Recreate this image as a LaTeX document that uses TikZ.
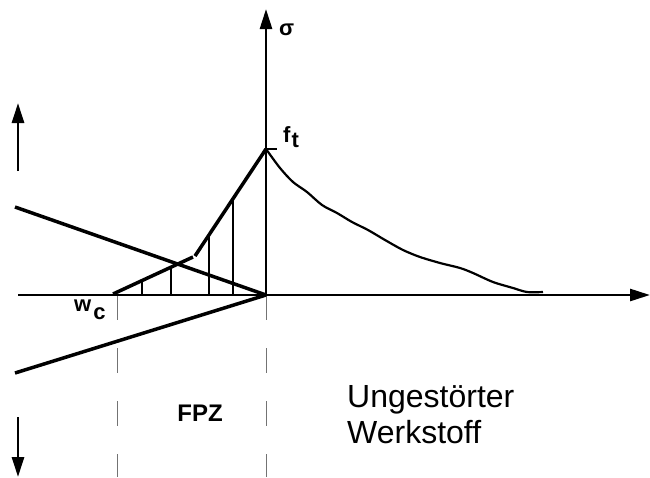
\documentclass[tikz,border=0pt]{standalone}
\usepackage{fontspec}
\setmainfont{Liberation Sans}
\usetikzlibrary{arrows.meta,calc}
\begin{document}
\begin{tikzpicture}[x=1pt,y=-1pt,
  heavy/.style={line width=3.5pt},
  axisline/.style={line width=2.6pt},
  hatchline/.style={line width=2.2pt},
  guide/.style={line width=1pt, draw=black!55, dash pattern=on 25pt off 28pt},
  tipA/.style={-{Triangle[length=20pt,width=12pt]}},
  lbl/.style={font=\bfseries\fontsize{22}{22}\selectfont, inner sep=0pt}
]
\useasboundingbox (0,0) rectangle (650,477);
% coordinates
\coordinate (O) at (266,295);
\coordinate (top) at (266,9);
\coordinate (peak) at (266,149);
\coordinate (xs) at (18,295);
\coordinate (xe) at (650,295);
\coordinate (wc) at (113,294);
\coordinate (k1) at (193,257);
\coordinate (k2) at (195,256);
\coordinate (ul) at (15,207);
\coordinate (ll) at (15,373);
\coordinate (ua0) at (18,171);
\coordinate (ua1) at (18,103);
\coordinate (da0) at (18,417);
\coordinate (da1) at (18,477);
\coordinate (g1a) at (117,295);
\coordinate (g1b) at (117,477);
\coordinate (g2b) at (266,477);
\coordinate (tk) at (277,149);

% guides
\draw[guide] (g1a) -- (g1b);
\draw[guide] (O) -- (g2b);

% axes
\draw[axisline,tipA] (xs) -- (xe);
\draw[axisline,tipA] (O) -- (top);
\draw[line width=2pt] (peak) -- (tk);

% side arrows
\draw[line width=2.8pt,tipA] (ua0) -- (ua1);
\draw[line width=2.8pt,tipA] (da0) -- (da1);

% crack faces
\draw[heavy] (ul) -- (O);
\draw[heavy] (ll) -- (O);

% bridging stress
\draw[heavy] (wc) -- (k1);
\draw[heavy] (k2) -- (peak);
\foreach \n/\a/\b/\t in {h1/wc/k1/0.3625, h2/wc/k1/0.725, h3/k2/peak/0.197, h4/k2/peak/0.535}{
  \coordinate (\n) at ($(\a)!\t!(\b)$);
  \draw[hatchline] (\n) -- (\n |- O);
}

% softening curve
\draw[line width=2.2pt] plot[smooth, tension=0.5] coordinates {
 (266,149) (280,168) (293,182) (307,192) (322,205) (337,213) (352,222)
 (368,230) (385,240) (403,250) (420,257) (440,263) (460,268) (473,273)
 (493,282) (513,288) (527,292) (543,292)};

% labels
\node[lbl, anchor=base west] (sig) at (279,35) {σ};
\node[lbl, anchor=base west] (ft) at (283,142) {f\kern1pt\raisebox{-5pt}{t}};
\node[lbl, anchor=base west] (wcl) at (74,311) {w\kern2pt\raisebox{-8pt}{c}};
\node[lbl, font=\bfseries\fontsize{24}{24}\selectfont] (fpz) at (200,413) {FPZ};
\node[inner sep=0pt, anchor=base west, font=\fontsize{32}{36}\selectfont] (ung) at (347,407) {Ungestörter};
\node[inner sep=0pt, anchor=base west, font=\fontsize{32}{36}\selectfont] (werk) at (347,443) {Werkstoff};
\end{tikzpicture}
\end{document}
